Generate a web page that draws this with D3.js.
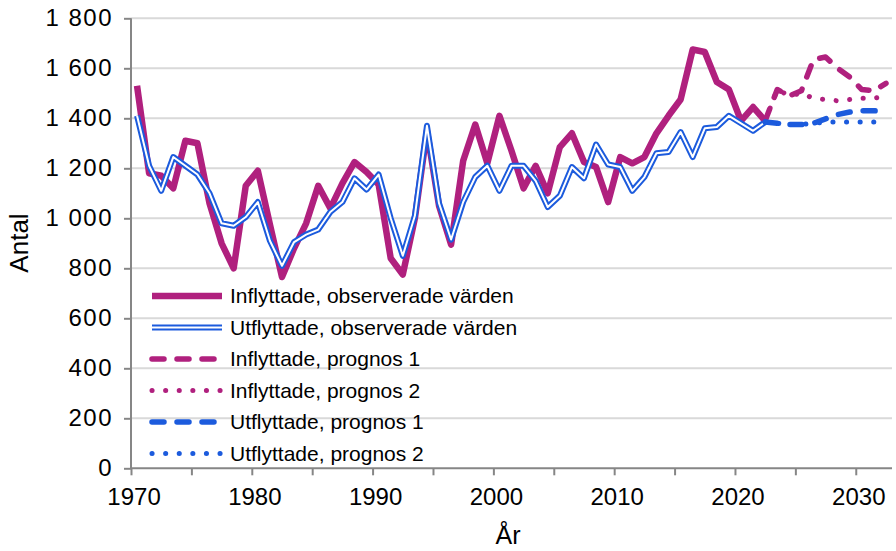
<!DOCTYPE html>
<html>
<head>
<meta charset="utf-8">
<script src="https://cdn.jsdelivr.net/npm/d3@7"></script>
<style>
  body { margin: 0; background: #fff; }
  text { font-family: "Liberation Sans", Arial, sans-serif; fill: #000; }
</style>
</head>
<body>
<script>
"use strict";

const width = 896;
const height = 551;

// observed years 1970-2022, forecast 2022-2032
const obsYears = d3.range(1970, 2023);
const prognosYears = d3.range(2022, 2033);

const inflyttadeObs = [
  1530, 1180, 1170, 1120, 1310, 1300, 1060, 900, 800, 1130,
  1190, 975, 765, 880, 980, 1130, 1040, 1140, 1225, 1185,
  1135, 840, 775, 1000, 1350, 1050, 895, 1230, 1375, 1220,
  1410, 1270, 1120, 1210, 1100, 1285, 1340, 1225, 1205, 1065,
  1245, 1220, 1245, 1340, 1410, 1475, 1675, 1665, 1545, 1515,
  1390, 1445, 1390
];
const utflyttadeObs = [
  1410, 1210, 1110, 1245, 1210, 1175, 1100, 980, 970, 1005,
  1065, 910, 810, 905, 935, 955, 1025, 1065, 1160, 1115,
  1175, 1000, 850, 1010, 1370, 1060, 915, 1065, 1165, 1210,
  1110, 1210, 1210, 1150, 1045, 1090, 1205, 1160, 1295, 1215,
  1205, 1110, 1165, 1260, 1265, 1345, 1245, 1360, 1365, 1410,
  1380, 1350, 1385
];
const inflyttadeP1 = [1390, 1515, 1490, 1510, 1635, 1645, 1600, 1565, 1515, 1510, 1540];
const inflyttadeP2 = [1390, 1515, 1490, 1500, 1480, 1475, 1470, 1475, 1480, 1480, 1488];
const utflyttadeP1 = [1385, 1380, 1375, 1375, 1380, 1398, 1415, 1425, 1430, 1430, 1428];
const utflyttadeP2 = [1385, 1380, 1375, 1375, 1380, 1385, 1385, 1385, 1385, 1385, 1385];

const yTicks = [0, 200, 400, 600, 800, 1000, 1200, 1400, 1600, 1800];
const xLabels = [1970, 1980, 1990, 2000, 2010, 2020, 2030];

const legendLabels = [
  "Inflyttade, observerade värden",
  "Utflyttade, observerade värden",
  "Inflyttade, prognos 1",
  "Inflyttade, prognos 2",
  "Utflyttade, prognos 1",
  "Utflyttade, prognos 2"
];

const purple = "#b0207e";
const blue = "#1c5bdd";

let x = d3.scaleLinear().domain([1969.5, 2032.5]).range([131, 892]);
let y = d3.scaleLinear().domain([0, 1800]).range([468.3, 18.3]);

let svg = d3.select("body").append("svg")
    .attr("width", width)
    .attr("height", height);

// gridlines
svg.append("g").selectAll("line")
    .data(yTicks.slice(1))
    .enter()
    .append("line")
    .attr("x1", 131).attr("x2", 892)
    .attr("y1", d => y(d)).attr("y2", d => y(d))
    .style("stroke", "#d9d9d9")
    .style("stroke-width", 2);

let fmt = d3.formatLocale({ decimal: ",", thousands: " ", grouping: [3], currency: ["", " kr"] }).format(",d");

// y axis
let yAxis = svg.append("g")
    .attr("transform", "translate(131,0)")
    .call(d3.axisLeft(y).tickValues(yTicks).tickFormat(fmt).tickSize(7).tickPadding(11));

// x axis: ticks at category boundaries every 5 years
let xAxis = svg.append("g")
    .attr("transform", "translate(0,468.3)")
    .call(d3.axisBottom(x).tickValues(d3.range(1969.5, 2032, 5)).tickSize(7).tickFormat(""));

svg.append("g").selectAll("text")
    .data(xLabels)
    .enter()
    .append("text")
    .attr("x", d => x(d) - 3)
    .attr("y", 505)
    .attr("text-anchor", "middle")
    .style("font-size", "24px")
    .text(d => d);

[yAxis, xAxis].forEach(g => {
  g.select(".domain").style("stroke", "#868686").style("stroke-width", 2);
  g.selectAll(".tick line").style("stroke", "#868686").style("stroke-width", 2);
});
yAxis.selectAll(".tick text")
    .style("font-size", "24px")
    .style("letter-spacing", "1.5px")
    .style("font-family", "Liberation Sans, Arial, sans-serif")
    .attr("fill", "#000");
yAxis.select(".domain").attr("d", "M0,468.3V18.3");
xAxis.select(".domain").attr("d", "M131,0H892");

// axis titles
svg.append("text")
    .attr("transform", "translate(28,243) rotate(-90)")
    .attr("text-anchor", "middle")
    .style("font-size", "26px")
    .text("Antal");

svg.append("text")
    .attr("x", 508)
    .attr("y", 544)
    .attr("text-anchor", "middle")
    .style("font-size", "25px")
    .text("År");

let line = d3.line()
    .x(d => x(d[0]))
    .y(d => y(d[1]));

const pair = (years, vals) => years.map((yr, i) => [yr, vals[i]]);

// styles for each series, used for both chart and legend
const styles = [
  { color: purple, w: 6.5, dash: null },
  { color: blue, w: 6, dash: null, inner: true },
  { color: purple, w: 5.5, dash: "12,13" },
  { color: purple, w: 5, dash: "0.1,13.5" },
  { color: blue, w: 5.5, dash: "12,13" },
  { color: blue, w: 5, dash: "0.1,13.5" }
];

const seriesData = [
  pair(obsYears, inflyttadeObs),
  pair(obsYears, utflyttadeObs),
  pair(prognosYears, inflyttadeP1),
  pair(prognosYears, inflyttadeP2),
  pair(prognosYears, utflyttadeP1),
  pair(prognosYears, utflyttadeP2)
];

function drawPath(g, d, s) {
  let p = g.append("path")
      .attr("d", d)
      .style("fill", "none")
      .style("stroke", s.color)
      .style("stroke-width", s.w)
      .style("stroke-linejoin", "round")
      .style("stroke-linecap", s.dash ? "round" : "butt");
  if (s.dash) p.style("stroke-dasharray", s.dash);
  if (s.inner) {
    g.append("path")
        .attr("d", d)
        .style("fill", "none")
        .style("stroke", "#fff")
        .style("stroke-width", 2)
        .style("stroke-linejoin", "round");
  }
}

let plot = svg.append("g");
seriesData.forEach((data, i) => drawPath(plot, line(data), styles[i]));

// legend
let legend = svg.append("g");
legendLabels.forEach((lab, i) => {
  let ly = 296 + i * 31.5;
  drawPath(legend, "M152," + ly + "H222", styles[i]);
  legend.append("text")
      .attr("x", 230)
      .attr("y", ly)
      .attr("dy", "0.35em")
      .style("font-size", "21px")
      .text(lab);
});
</script>
</body>
</html>
